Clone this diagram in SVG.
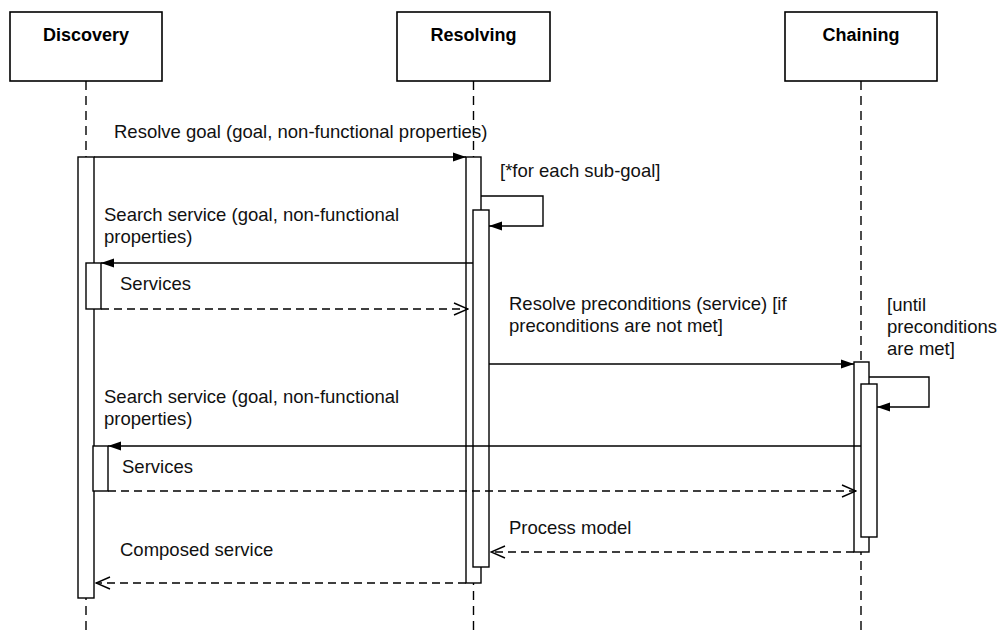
<svg xmlns="http://www.w3.org/2000/svg" width="999" height="632" viewBox="0 0 999 632">
  <style>
    .box { fill: #fff; stroke: #000; stroke-width: 1.6; }
    .act { fill: #fff; stroke: #000; stroke-width: 1.4; }
    .life { stroke: #000; stroke-width: 1.4; stroke-dasharray: 9 6; fill: none; }
    .msg { stroke: #000; stroke-width: 1.4; fill: none; }
    .ret { stroke: #000; stroke-width: 1.4; fill: none; stroke-dasharray: 8 5; }
    .title { font-family: "Liberation Sans", Arial, sans-serif; font-size: 18px; font-weight: bold; text-anchor: middle; fill: #000; }
    .lbl { font-family: "Liberation Sans", Arial, sans-serif; font-size: 18.5px; fill: #111; }
  </style>
  <defs>
    <marker id="filled" markerWidth="14" markerHeight="10" refX="13" refY="5" orient="auto" markerUnits="userSpaceOnUse">
      <path d="M0,0.5 L13,5 L0,9.5 Z" fill="#000"/>
    </marker>
    <marker id="open" markerWidth="16" markerHeight="14" refX="15" refY="7" orient="auto" markerUnits="userSpaceOnUse">
      <path d="M1,1 L15,7 L1,13" fill="none" stroke="#000" stroke-width="1.4"/>
    </marker>
  </defs>
  <rect width="999" height="632" fill="#fff"/>

  <!-- lifelines -->
  <g id="lifelines">
    <line class="life" x1="86" y1="81" x2="86" y2="632"/>
    <line class="life" x1="473.5" y1="81" x2="473.5" y2="632"/>
    <line class="life" x1="861" y1="81" x2="861" y2="632"/>
  </g>

  <!-- participant: Discovery -->
  <g id="discovery">
    <rect class="box" x="10" y="12" width="152" height="69"/>
    <text class="title" x="86" y="41">Discovery</text>
    <rect class="act" x="78" y="157" width="16" height="441"/>
    <rect class="act" x="86" y="263" width="15" height="46"/>
    <rect class="act" x="93" y="446" width="15" height="45"/>
  </g>

  <!-- participant: Resolving -->
  <g id="resolving">
    <rect class="box" x="397" y="12" width="153" height="69"/>
    <text class="title" x="473.5" y="41">Resolving</text>
    <rect class="act" x="466" y="157" width="15" height="426"/>
    <rect class="act" x="473" y="210" width="16" height="357"/>
  </g>

  <!-- participant: Chaining -->
  <g id="chaining">
    <rect class="box" x="785" y="12" width="152" height="69"/>
    <text class="title" x="861" y="41">Chaining</text>
    <rect class="act" x="854" y="362" width="15" height="190"/>
    <rect class="act" x="861" y="384" width="16" height="153"/>
  </g>

  <!-- messages -->
  <g id="connectors">
    <line class="msg" x1="94" y1="157" x2="466" y2="157" marker-end="url(#filled)"/>
    <polyline class="msg" points="481,196 543,196 543,226 489,226" marker-end="url(#filled)"/>
    <line class="msg" x1="473" y1="263" x2="101" y2="263" marker-end="url(#filled)"/>
    <line class="ret" x1="101" y1="309" x2="468" y2="309" marker-end="url(#open)"/>
    <line class="msg" x1="489" y1="364" x2="854" y2="364" marker-end="url(#filled)"/>
    <polyline class="msg" points="869,377 929,377 929,407 877,407" marker-end="url(#filled)"/>
    <line class="msg" x1="861" y1="446" x2="108" y2="446" marker-end="url(#filled)"/>
    <line class="ret" x1="108" y1="491" x2="856" y2="491" marker-end="url(#open)"/>
    <line class="ret" x1="854" y1="552" x2="491" y2="552" marker-end="url(#open)"/>
    <line class="ret" x1="466" y1="583" x2="96" y2="583" marker-end="url(#open)"/>
  </g>

  <!-- message labels -->
  <g id="labels">
    <text class="lbl" x="114" y="138">Resolve goal (goal, non-functional properties)</text>
    <text class="lbl" x="500" y="177">[*for each sub-goal]</text>
    <text class="lbl" x="104" y="221">Search service (goal, non-functional</text>
    <text class="lbl" x="104" y="243">properties)</text>
    <text class="lbl" x="120" y="290">Services</text>
    <text class="lbl" x="509" y="310">Resolve preconditions (service) [if</text>
    <text class="lbl" x="509" y="332">preconditions are not met]</text>
    <text class="lbl" x="887" y="311">[until</text>
    <text class="lbl" x="887" y="333">preconditions</text>
    <text class="lbl" x="887" y="355">are met]</text>
    <text class="lbl" x="104" y="403">Search service (goal, non-functional</text>
    <text class="lbl" x="104" y="425">properties)</text>
    <text class="lbl" x="122" y="473">Services</text>
    <text class="lbl" x="509" y="534">Process model</text>
    <text class="lbl" x="120" y="556">Composed service</text>
  </g>
</svg>
